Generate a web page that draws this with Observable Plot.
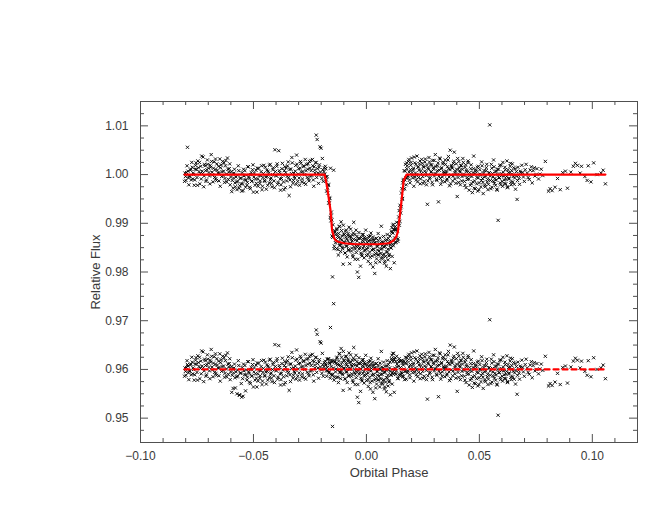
<!DOCTYPE html>
<html><head><meta charset="utf-8">
<script src="https://cdn.jsdelivr.net/npm/d3@7"></script>
<script src="https://cdn.jsdelivr.net/npm/@observablehq/plot@0.6"></script>
<style>html,body{margin:0;padding:0;background:#fff;} #chart{width:660px;height:510px;}</style>
</head><body><div id="chart"></div>
<script>
// Observations: orbital phase, relative flux, residual (offset to 0.96)
const phase = [
-0.0805,-0.0801,-0.0796,-0.0792,-0.0788,-0.0784,-0.0779,-0.0775,-0.0771,-0.0767,
-0.0762,-0.0758,-0.0754,-0.0750,-0.0746,-0.0741,-0.0737,-0.0733,-0.0729,-0.0725,
-0.0720,-0.0716,-0.0712,-0.0708,-0.0704,-0.0699,-0.0695,-0.0691,-0.0687,-0.0683,
-0.0679,-0.0674,-0.0670,-0.0666,-0.0662,-0.0657,-0.0653,-0.0649,-0.0645,-0.0641,
-0.0636,-0.0632,-0.0628,-0.0624,-0.0620,-0.0615,-0.0611,-0.0607,-0.0603,-0.0598,
-0.0594,-0.0590,-0.0586,-0.0582,-0.0577,-0.0573,-0.0569,-0.0565,-0.0561,-0.0556,
-0.0552,-0.0548,-0.0544,-0.0540,-0.0535,-0.0531,-0.0527,-0.0523,-0.0519,-0.0514,
-0.0510,-0.0506,-0.0502,-0.0498,-0.0493,-0.0489,-0.0485,-0.0481,-0.0477,-0.0472,
-0.0468,-0.0464,-0.0460,-0.0456,-0.0451,-0.0447,-0.0443,-0.0439,-0.0435,-0.0430,
-0.0426,-0.0422,-0.0418,-0.0414,-0.0409,-0.0405,-0.0401,-0.0397,-0.0393,-0.0388,
-0.0384,-0.0380,-0.0376,-0.0372,-0.0367,-0.0363,-0.0359,-0.0355,-0.0351,-0.0346,
-0.0342,-0.0338,-0.0334,-0.0330,-0.0325,-0.0321,-0.0317,-0.0313,-0.0309,-0.0304,
-0.0300,-0.0296,-0.0292,-0.0288,-0.0283,-0.0279,-0.0275,-0.0271,-0.0267,-0.0262,
-0.0258,-0.0254,-0.0250,-0.0246,-0.0241,-0.0237,-0.0233,-0.0229,-0.0225,-0.0222,
-0.0218,-0.0214,-0.0210,-0.0205,-0.0201,-0.0197,-0.0193,-0.0188,-0.0184,-0.0180,
-0.0177,-0.0174,-0.0171,-0.0168,-0.0165,-0.0162,-0.0159,-0.0157,-0.0155,-0.0152,
-0.0150,-0.0148,-0.0145,-0.0142,-0.0139,-0.0135,-0.0132,-0.0130,-0.0127,-0.0124,
-0.0122,-0.0119,-0.0117,-0.0114,-0.0112,-0.0109,-0.0106,-0.0103,-0.0101,-0.0098,
-0.0095,-0.0093,-0.0090,-0.0087,-0.0085,-0.0082,-0.0079,-0.0077,-0.0074,-0.0071,
-0.0069,-0.0066,-0.0063,-0.0061,-0.0058,-0.0056,-0.0053,-0.0050,-0.0048,-0.0045,
-0.0042,-0.0040,-0.0037,-0.0034,-0.0032,-0.0029,-0.0026,-0.0024,-0.0021,-0.0018,
-0.0016,-0.0013,-0.0010,-0.0008,-0.0005,-0.0002,0.0000,0.0003,0.0006,0.0008,
0.0011,0.0014,0.0016,0.0018,0.0021,0.0024,0.0026,0.0029,0.0032,0.0035,
0.0037,0.0040,0.0043,0.0045,0.0048,0.0051,0.0053,0.0056,0.0059,0.0061,
0.0064,0.0066,0.0069,0.0072,0.0074,0.0077,0.0080,0.0082,0.0085,0.0088,
0.0090,0.0093,0.0096,0.0098,0.0101,0.0104,0.0106,0.0109,0.0112,0.0114,
0.0117,0.0119,0.0121,0.0123,0.0125,0.0128,0.0131,0.0134,0.0137,0.0140,
0.0143,0.0146,0.0149,0.0152,0.0155,0.0158,0.0161,0.0164,0.0167,0.0170,
0.0173,0.0176,0.0179,0.0182,0.0186,0.0189,0.0193,0.0196,0.0200,0.0203,
0.0207,0.0210,0.0214,0.0217,0.0221,0.0224,0.0228,0.0231,0.0235,0.0238,
0.0242,0.0245,0.0249,0.0252,0.0256,0.0259,0.0263,0.0266,0.0270,0.0273,
0.0277,0.0280,0.0284,0.0287,0.0291,0.0294,0.0298,0.0301,0.0305,0.0308,
0.0312,0.0315,0.0319,0.0322,0.0326,0.0329,0.0333,0.0336,0.0340,0.0343,
0.0347,0.0350,0.0354,0.0357,0.0361,0.0364,0.0368,0.0371,0.0375,0.0378,
0.0382,0.0385,0.0389,0.0392,0.0396,0.0399,0.0402,0.0406,0.0409,0.0413,
0.0416,0.0420,0.0423,0.0427,0.0430,0.0434,0.0437,0.0441,0.0444,0.0448,
0.0451,0.0455,0.0458,0.0462,0.0465,0.0469,0.0472,0.0475,0.0479,0.0482,
0.0486,0.0489,0.0493,0.0496,0.0500,0.0503,0.0507,0.0510,0.0514,0.0517,
0.0521,0.0524,0.0528,0.0531,0.0535,0.0538,0.0542,0.0546,0.0549,0.0553,
0.0556,0.0560,0.0563,0.0567,0.0570,0.0574,0.0577,0.0580,0.0583,0.0587,
0.0590,0.0594,0.0597,0.0601,0.0604,0.0608,0.0611,0.0615,0.0618,0.0622,
0.0625,0.0629,0.0632,0.0636,0.0639,0.0643,0.0646,0.0650,0.0654,0.0658,
0.0662,0.0667,0.0671,0.0676,0.0681,0.0688,0.0695,0.0703,0.0712,0.0721,
0.0730,0.0738,0.0746,0.0755,0.0768,0.0781,0.0792,0.0806,0.0813,0.0822,
0.0835,0.0846,0.0858,0.0869,0.0881,0.0890,0.0905,0.0916,0.0925,0.0934,
0.0946,0.0952,0.0967,0.0977,0.0982,0.0994,0.1006,0.1021,0.1039,0.1048,
0.1058,
// second pass of exposures
-0.0803,-0.0799,-0.0794,-0.0790,-0.0786,-0.0782,-0.0777,-0.0773,-0.0769,-0.0765,
-0.0760,-0.0756,-0.0752,-0.0748,-0.0744,-0.0739,-0.0735,-0.0731,-0.0727,-0.0723,
-0.0718,-0.0714,-0.0710,-0.0706,-0.0702,-0.0697,-0.0693,-0.0689,-0.0685,-0.0681,
-0.0677,-0.0672,-0.0668,-0.0664,-0.0660,-0.0655,-0.0651,-0.0647,-0.0643,-0.0639,
-0.0634,-0.0630,-0.0626,-0.0622,-0.0618,-0.0613,-0.0609,-0.0605,-0.0601,-0.0596,
-0.0592,-0.0588,-0.0584,-0.0580,-0.0575,-0.0571,-0.0567,-0.0563,-0.0559,-0.0554,
-0.0550,-0.0546,-0.0542,-0.0538,-0.0533,-0.0529,-0.0525,-0.0521,-0.0517,-0.0512,
-0.0508,-0.0504,-0.0500,-0.0496,-0.0491,-0.0487,-0.0483,-0.0479,-0.0475,-0.0470,
-0.0466,-0.0462,-0.0458,-0.0454,-0.0449,-0.0445,-0.0441,-0.0437,-0.0433,-0.0428,
-0.0424,-0.0420,-0.0416,-0.0412,-0.0407,-0.0403,-0.0399,-0.0395,-0.0391,-0.0386,
-0.0382,-0.0378,-0.0374,-0.0370,-0.0365,-0.0361,-0.0357,-0.0353,-0.0349,-0.0344,
-0.0340,-0.0336,-0.0332,-0.0328,-0.0323,-0.0319,-0.0315,-0.0311,-0.0307,-0.0302,
-0.0298,-0.0294,-0.0290,-0.0286,-0.0281,-0.0277,-0.0273,-0.0269,-0.0265,-0.0260,
-0.0256,-0.0252,-0.0248,-0.0244,-0.0239,-0.0235,-0.0231,-0.0227,-0.0223,-0.0220,
-0.0216,-0.0212,-0.0208,-0.0203,-0.0199,-0.0195,-0.0191,-0.0186,-0.0182,
-0.0179,-0.0176,-0.0172,-0.0169,-0.0166,-0.0163,-0.0160,-0.0156,-0.0153,-0.0149,-0.0146,-0.0143,-0.0140,-0.0137,
-0.0134,-0.0131,-0.0128,-0.0126,-0.0123,-0.0120,-0.0118,-0.0115,-0.0113,-0.0110,
-0.0107,-0.0105,-0.0102,-0.0099,-0.0097,-0.0094,-0.0091,-0.0089,-0.0086,-0.0083,
-0.0081,-0.0078,-0.0075,-0.0073,-0.0070,-0.0067,-0.0065,-0.0062,-0.0059,-0.0057,
-0.0054,-0.0051,-0.0049,-0.0046,-0.0043,-0.0041,-0.0038,-0.0035,-0.0033,-0.0030,
-0.0027,-0.0025,-0.0022,-0.0019,-0.0017,-0.0014,-0.0011,-0.0009,-0.0006,-0.0003,
0.0001,0.0004,0.0007,0.0009,0.0012,0.0015,0.0017,0.0020,0.0023,0.0025,
0.0028,0.0031,0.0033,0.0036,0.0039,0.0041,0.0044,0.0047,0.0049,0.0052,
0.0055,0.0057,0.0060,0.0063,0.0065,0.0068,0.0071,0.0073,0.0076,0.0079,
0.0081,0.0084,0.0087,0.0089,0.0092,0.0095,0.0097,0.0100,0.0103,0.0105,
0.0108,0.0111,0.0113,0.0116,0.0118,0.0120,0.0122,0.0124,
0.0127,0.0130,0.0133,0.0136,0.0139,0.0142,0.0145,0.0148,0.0151,0.0154,0.0157,0.0160,0.0163,0.0166,0.0169,0.0172,0.0175,0.0178,
0.0181,0.0184,0.0188,0.0191,0.0195,0.0198,0.0202,0.0205,
0.0209,0.0212,0.0216,0.0219,0.0223,0.0226,0.0230,0.0233,0.0237,0.0240,
0.0244,0.0247,0.0251,0.0254,0.0258,0.0261,0.0265,0.0268,0.0272,0.0275,
0.0279,0.0282,0.0286,0.0289,0.0293,0.0296,0.0300,0.0303,0.0307,0.0310,
0.0314,0.0317,0.0321,0.0324,0.0328,0.0331,0.0335,0.0338,0.0342,0.0345,
0.0349,0.0352,0.0356,0.0359,0.0363,0.0366,0.0370,0.0373,0.0377,0.0380,
0.0384,0.0387,0.0391,0.0394,0.0398,0.0401,0.0404,0.0408,0.0411,0.0415,
0.0418,0.0422,0.0425,0.0429,0.0432,0.0436,0.0439,0.0443,0.0446,0.0450,
0.0453,0.0457,0.0460,0.0464,0.0467,0.0471,0.0474,0.0477,0.0481,0.0484,
0.0488,0.0491,0.0495,0.0498,0.0502,0.0505,0.0509,0.0512,0.0516,0.0519,
0.0523,0.0526,0.0530,0.0533,0.0537,0.0540,0.0544,0.0548,0.0551,0.0555,
0.0558,0.0562,0.0565,0.0569,0.0572,0.0576,0.0579,0.0582,0.0585,0.0589,
0.0592,0.0596,0.0599,0.0603,0.0606,0.0610,0.0613,0.0617,0.0620,0.0624,
0.0627,0.0631,0.0634,0.0638,0.0641,0.0645,0.0648,0.0652,0.0656,0.0660,
0.0664,0.0669,0.0673,0.0678,0.0683,
0.0692,0.0699,0.0707,0.0716,0.0725,0.0734,0.0743,0.0751,0.0762,0.0774
];
const flux = [
0.9986,0.9996,1.0004,1.0056,0.9993,0.9998,1.0009,0.9989,1.0015,1.0003,
0.9978,1.0011,1.0024,0.9994,1.0028,1.0006,0.9981,1.0017,1.0038,1.0002,
0.9975,1.0021,1.0008,0.9989,1.0030,1.0013,0.9997,1.0019,1.0041,1.0005,
0.9985,1.0026,1.0010,0.9992,1.0022,1.0003,0.9987,1.0032,1.0014,0.9996,
1.0027,1.0007,0.9984,1.0018,1.0001,1.0034,0.9990,1.0012,0.9979,1.0006,
0.9988,0.9972,1.0003,0.9983,0.9995,0.9969,0.9986,1.0008,0.9977,0.9993,
0.9966,0.9981,1.0011,0.9989,0.9974,0.9999,0.9984,1.0016,0.9992,0.9971,
1.0004,0.9987,1.0020,0.9995,0.9978,1.0009,0.9964,0.9991,1.0013,0.9982,
0.9998,1.0018,0.9976,1.0002,0.9988,1.0015,0.9970,0.9996,1.0007,0.9983,
1.0021,0.9993,0.9975,1.0010,0.9987,1.0051,0.9999,1.0017,0.9980,1.0049,
1.0004,0.9968,0.9992,1.0023,0.9985,1.0008,0.9973,1.0014,0.9996,1.0026,
0.9957,0.9989,1.0011,1.0035,0.9982,1.0003,0.9993,1.0019,1.0040,0.9986,
1.0012,0.9978,1.0027,1.0005,0.9991,1.0016,0.9983,1.0031,1.0008,0.9994,
1.0022,0.9987,1.0013,1.0029,0.9998,1.0018,0.9976,1.0009,1.0024,1.0081,
1.0072,1.0003,1.0015,1.0057,1.0054,0.9992,1.0010,1.0006,1.0001,1.0012,
0.9989,0.9996,0.9962,0.9978,0.9941,0.9951,1.0013,0.9905,0.9923,0.9874,
0.9790,0.9897,1.0009,0.9853,0.9882,0.9877,0.9848,0.9889,0.9862,0.9835,
0.9871,0.9894,0.9856,0.9842,0.9903,0.9866,0.9851,0.9816,0.9878,0.9860,
0.9839,0.9884,0.9853,0.9868,0.9831,0.9875,0.9846,0.9892,0.9817,0.9859,
0.9872,0.9843,0.9864,0.9835,0.9880,0.9902,0.9851,0.9826,0.9866,0.9840,
0.9873,0.9800,0.9856,0.9789,0.9847,0.9869,0.9812,0.9858,0.9836,0.9877,
0.9849,0.9862,0.9829,0.9871,0.9845,0.9858,0.9834,0.9867,0.9850,0.9822,
0.9863,0.9841,0.9874,0.9817,0.9854,0.9833,0.9866,0.9810,0.9846,0.9860,
0.9797,0.9838,0.9869,0.9827,0.9852,0.9835,0.9864,0.9843,0.9821,0.9857,
0.9838,0.9894,0.9848,0.9829,0.9861,0.9837,0.9818,0.9853,0.9832,0.9812,
0.9866,0.9841,0.9825,0.9858,0.9836,0.9874,0.9807,0.9849,0.9881,0.9832,
0.9896,0.9854,0.9887,0.9819,0.9870,0.9893,0.9861,0.9902,0.9884,0.9868,
0.9913,0.9896,0.9937,0.9921,0.9962,0.9949,0.9983,0.9970,1.0008,0.9989,
1.0021,0.9979,1.0012,0.9993,1.0027,1.0005,0.9983,1.0019,1.0034,0.9998,
1.0010,0.9976,1.0024,1.0003,0.9989,1.0038,1.0015,0.9994,1.0022,0.9981,
1.0008,1.0031,0.9996,1.0017,0.9986,1.0026,1.0004,0.9979,0.9939,1.0013,
1.0035,0.9992,1.0020,1.0006,0.9984,1.0029,1.0011,0.9997,1.0041,1.0002,
0.9988,1.0018,0.9944,1.0009,1.0032,0.9980,1.0014,0.9995,1.0025,1.0003,
0.9985,1.0021,1.0007,0.9991,1.0030,1.0012,0.9977,1.0050,0.9999,1.0016,
0.9987,1.0023,1.0046,1.0004,0.9982,1.0011,0.9955,0.9994,1.0027,1.0008,
0.9979,1.0019,0.9996,1.0033,1.0001,0.9986,1.0015,0.9973,1.0006,0.9990,
1.0024,0.9968,0.9998,1.0012,0.9981,0.9963,1.0004,1.0038,0.9987,0.9971,
1.0009,0.9994,0.9966,1.0017,0.9983,1.0001,0.9975,1.0026,0.9992,0.9961,
1.0008,0.9978,0.9997,1.0014,0.9985,0.9969,1.0003,1.0102,0.9988,1.0021,
0.9974,0.9995,1.0030,0.9982,1.0006,0.9989,0.9970,1.0011,0.9906,0.9993,
1.0019,0.9979,1.0002,0.9986,1.0025,0.9997,0.9981,1.0010,0.9990,1.0028,
0.9975,1.0004,0.9993,1.0017,0.9984,1.0008,1.0022,0.9996,0.9980,1.0012,
0.9998,0.9949,1.0015,0.9992,1.0007,1.0019,0.9995,1.0010,1.0003,0.9990,
1.0016,1.0008,0.9997,1.0012,1.0001,0.9998,1.0027,0.9966,0.9971,0.9967,
0.9974,0.9992,0.9969,1.0004,1.0007,0.9972,1.0005,1.0017,1.0023,1.0019,
1.0003,1.0017,0.9996,0.9988,1.0018,0.9985,1.0024,1.0000,1.0003,1.0009,
0.9981,
// second pass
1.0003,0.9988,1.0018,1.0007,0.9979,0.9996,1.0011,1.0025,0.9991,1.0000,
0.9989,1.0019,1.0011,0.9978,1.0014,1.0025,1.0002,0.9991,1.0007,1.0036,
0.9997,1.0018,0.9986,1.0010,1.0021,1.0004,0.9981,1.0015,1.0027,0.9999,
1.0013,0.9994,1.0032,0.9988,1.0009,1.0017,1.0003,0.9976,1.0020,1.0006,
0.9998,1.0024,0.9992,1.0029,0.9985,1.0011,1.0005,1.0022,0.9995,0.9965,
1.0001,0.9993,1.0011,0.9975,0.9985,0.9999,1.0018,0.9972,0.9992,0.9981,
1.0004,0.9967,0.9997,1.0008,0.9989,0.9978,1.0016,0.9995,0.9974,1.0000,
0.9986,1.0010,0.9964,1.0003,0.9991,0.9982,1.0013,0.9976,0.9998,0.9987,
1.0006,0.9969,0.9994,1.0019,0.9986,0.9995,1.0009,0.9978,1.0003,1.0019,
0.9990,0.9982,1.0000,1.0014,0.9973,1.0006,0.9997,1.0022,0.9984,1.0008,
0.9991,0.9979,1.0012,0.9999,0.9969,1.0016,1.0004,0.9987,1.0018,0.9994,
1.0011,0.9975,1.0002,1.0024,0.9988,0.9996,1.0007,0.9980,1.0021,1.0001,
0.9993,1.0013,1.0023,0.9985,1.0006,1.0018,1.0000,0.9980,1.0021,1.0011,
0.9991,1.0027,0.9997,1.0008,1.0031,0.9989,1.0016,1.0003,1.0025,0.9994,
1.0012,0.9982,1.0020,1.0005,0.9999,1.0033,0.9986,1.0014,1.0017,
0.9995,0.9966,0.9973,0.9980,0.9942,0.9952,0.9912,0.9915,0.9907,0.9871,0.9878,0.9848,0.9885,0.9860,
0.9866,0.9887,0.9873,0.9846,0.9879,0.9893,0.9854,0.9868,0.9858,0.9885,
0.9874,0.9848,0.9896,0.9862,0.9877,0.9839,0.9871,0.9886,0.9853,0.9864,
0.9879,0.9844,0.9873,0.9858,0.9888,0.9867,0.9849,0.9876,0.9831,0.9867,
0.9857,0.9877,0.9847,0.9886,0.9852,0.9864,0.9826,0.9869,0.9881,0.9850,
0.9858,0.9839,0.9871,0.9833,0.9865,0.9877,0.9853,0.9843,0.9868,0.9886,
0.9847,0.9861,0.9836,0.9873,0.9856,0.9866,0.9830,0.9880,0.9859,0.9845,
0.9872,0.9847,0.9866,0.9835,0.9860,0.9819,0.9869,0.9854,0.9845,0.9879,
0.9836,0.9858,0.9870,0.9847,0.9828,0.9862,0.9854,0.9834,0.9873,0.9851,
0.9822,0.9865,0.9857,0.9841,0.9877,0.9847,0.9869,0.9833,0.9863,0.9856,
0.9850,0.9884,0.9891,0.9857,0.9880,0.9898,0.9865,0.9887,
0.9860,0.9887,0.9870,0.9889,0.9863,0.9900,0.9926,0.9904,0.9931,0.9934,0.9971,0.9951,0.9988,0.9990,0.9971,1.0007,0.9993,1.0024,
1.0018,0.9997,1.0031,0.9989,1.0010,1.0025,1.0004,0.9993,
1.0013,1.0036,0.9995,1.0021,1.0000,0.9985,1.0016,1.0009,1.0028,0.9991,
1.0002,1.0023,0.9982,1.0015,1.0007,1.0032,0.9998,1.0019,0.9987,1.0011,
1.0026,0.9994,1.0005,1.0020,0.9979,1.0014,1.0029,1.0001,1.0017,0.9990,
1.0008,1.0024,0.9997,1.0034,0.9992,1.0012,0.9986,1.0022,1.0006,0.9999,
1.0030,1.0003,0.9988,1.0016,1.0037,0.9995,1.0010,0.9981,1.0019,1.0013,
0.9997,1.0027,0.9991,1.0007,1.0022,1.0000,1.0033,0.9984,1.0014,1.0005,
1.0018,0.9987,1.0011,1.0025,0.9998,0.9978,1.0020,1.0009,0.9994,1.0028,
0.9991,1.0004,0.9978,1.0020,0.9996,0.9985,1.0012,0.9972,1.0001,1.0006,
0.9981,1.0015,0.9993,0.9969,1.0010,0.9999,0.9988,1.0018,0.9984,1.0003,
0.9995,0.9975,1.0008,1.0021,0.9990,0.9980,1.0004,0.9997,0.9971,1.0013,
1.0002,0.9986,1.0016,0.9992,0.9978,1.0007,0.9968,1.0000,1.0011,0.9994,
0.9983,1.0019,0.9998,0.9976,1.0005,0.9989,1.0015,0.9981,0.9996,0.9973,
1.0010,0.9991,1.0003,1.0023,0.9979,1.0001,0.9985,1.0014,0.9993,0.9970,
1.0006,0.9988,0.9998,0.9980,1.0004,
1.0004,0.9986,1.0021,0.9994,1.0009,0.9983,1.0014,1.0000,0.9991,1.0011
];
const residual = [
0.9586,0.9596,0.9604,0.9610,0.9593,0.9598,0.9609,0.9589,0.9615,0.9603,
0.9578,0.9611,0.9624,0.9594,0.9628,0.9606,0.9581,0.9617,0.9638,0.9602,
0.9575,0.9621,0.9608,0.9589,0.9630,0.9613,0.9597,0.9619,0.9641,0.9605,
0.9585,0.9626,0.9610,0.9592,0.9622,0.9603,0.9587,0.9632,0.9614,0.9596,
0.9627,0.9607,0.9584,0.9618,0.9601,0.9634,0.9590,0.9612,0.9579,0.9606,
0.9588,0.9561,0.9603,0.9583,0.9595,0.9550,0.9586,0.9608,0.9547,0.9593,
0.9543,0.9581,0.9611,0.9589,0.9556,0.9599,0.9584,0.9616,0.9592,0.9571,
0.9604,0.9587,0.9620,0.9595,0.9578,0.9609,0.9564,0.9591,0.9613,0.9582,
0.9598,0.9618,0.9576,0.9602,0.9588,0.9615,0.9570,0.9596,0.9607,0.9583,
0.9621,0.9593,0.9575,0.9610,0.9587,0.9651,0.9599,0.9617,0.9580,0.9649,
0.9604,0.9568,0.9592,0.9623,0.9585,0.9608,0.9573,0.9614,0.9596,0.9626,
0.9557,0.9589,0.9611,0.9635,0.9582,0.9603,0.9593,0.9619,0.9640,0.9586,
0.9612,0.9578,0.9627,0.9605,0.9591,0.9616,0.9583,0.9631,0.9608,0.9594,
0.9622,0.9587,0.9613,0.9629,0.9598,0.9618,0.9576,0.9609,0.9624,0.9681,
0.9672,0.9603,0.9615,0.9657,0.9654,0.9592,0.9610,0.9606,0.9601,0.9612,
0.9597,0.9621,0.9597,0.9622,0.9595,0.9614,0.9686,0.9590,0.9619,0.9588,
0.9483,0.9618,0.9735,0.9584,0.9615,0.9612,0.9584,0.9625,0.9599,0.9573,
0.9609,0.9633,0.9595,0.9581,0.9643,0.9606,0.9592,0.9557,0.9619,0.9601,
0.9581,0.9626,0.9595,0.9610,0.9573,0.9617,0.9588,0.9634,0.9560,0.9602,
0.9615,0.9586,0.9607,0.9578,0.9623,0.9645,0.9594,0.9569,0.9609,0.9583,
0.9616,0.9543,0.9599,0.9532,0.9590,0.9612,0.9555,0.9601,0.9579,0.9620,
0.9592,0.9605,0.9572,0.9614,0.9588,0.9601,0.9577,0.9610,0.9593,0.9565,
0.9606,0.9584,0.9617,0.9560,0.9597,0.9576,0.9609,0.9553,0.9589,0.9603,
0.9540,0.9581,0.9612,0.9570,0.9595,0.9578,0.9607,0.9586,0.9564,0.9600,
0.9581,0.9637,0.9590,0.9571,0.9603,0.9579,0.9560,0.9595,0.9574,0.9554,
0.9607,0.9582,0.9566,0.9599,0.9577,0.9615,0.9548,0.9588,0.9619,0.9570,
0.9633,0.9590,0.9622,0.9553,0.9603,0.9624,0.9590,0.9627,0.9605,0.9582,
0.9616,0.9588,0.9617,0.9590,0.9618,0.9592,0.9613,0.9586,0.9617,0.9596,
0.9625,0.9580,0.9612,0.9593,0.9627,0.9605,0.9583,0.9619,0.9634,0.9598,
0.9610,0.9576,0.9624,0.9603,0.9589,0.9638,0.9615,0.9594,0.9622,0.9581,
0.9608,0.9631,0.9596,0.9617,0.9586,0.9626,0.9604,0.9579,0.9539,0.9613,
0.9635,0.9592,0.9620,0.9606,0.9584,0.9629,0.9611,0.9597,0.9641,0.9602,
0.9588,0.9618,0.9544,0.9609,0.9632,0.9580,0.9614,0.9595,0.9625,0.9603,
0.9585,0.9621,0.9607,0.9591,0.9630,0.9612,0.9577,0.9650,0.9599,0.9616,
0.9587,0.9623,0.9646,0.9604,0.9582,0.9611,0.9555,0.9594,0.9627,0.9608,
0.9579,0.9619,0.9596,0.9633,0.9601,0.9586,0.9615,0.9573,0.9606,0.9590,
0.9624,0.9568,0.9598,0.9612,0.9581,0.9563,0.9604,0.9638,0.9587,0.9571,
0.9609,0.9594,0.9566,0.9617,0.9583,0.9601,0.9575,0.9626,0.9592,0.9561,
0.9608,0.9578,0.9597,0.9614,0.9585,0.9569,0.9603,0.9702,0.9588,0.9621,
0.9574,0.9595,0.9630,0.9582,0.9606,0.9589,0.9570,0.9611,0.9506,0.9593,
0.9619,0.9579,0.9602,0.9586,0.9625,0.9597,0.9581,0.9610,0.9590,0.9628,
0.9575,0.9604,0.9593,0.9617,0.9584,0.9608,0.9622,0.9596,0.9580,0.9612,
0.9598,0.9549,0.9615,0.9592,0.9607,0.9619,0.9595,0.9610,0.9603,0.9590,
0.9616,0.9608,0.9597,0.9612,0.9601,0.9598,0.9627,0.9566,0.9571,0.9567,
0.9574,0.9592,0.9569,0.9604,0.9607,0.9572,0.9605,0.9617,0.9623,0.9619,
0.9603,0.9617,0.9596,0.9588,0.9618,0.9585,0.9624,0.9600,0.9603,0.9609,
0.9581,
// second pass
0.9603,0.9588,0.9618,0.9607,0.9579,0.9596,0.9611,0.9625,0.9591,0.9600,
0.9589,0.9619,0.9611,0.9578,0.9614,0.9625,0.9602,0.9591,0.9607,0.9636,
0.9597,0.9618,0.9586,0.9610,0.9621,0.9604,0.9581,0.9615,0.9627,0.9599,
0.9613,0.9594,0.9632,0.9588,0.9609,0.9617,0.9603,0.9576,0.9620,0.9606,
0.9598,0.9624,0.9592,0.9629,0.9585,0.9611,0.9605,0.9622,0.9595,0.9553,
0.9601,0.9593,0.9611,0.9562,0.9585,0.9599,0.9618,0.9548,0.9592,0.9571,
0.9604,0.9545,0.9597,0.9608,0.9589,0.9578,0.9616,0.9595,0.9574,0.9600,
0.9586,0.9610,0.9564,0.9603,0.9591,0.9582,0.9613,0.9576,0.9598,0.9587,
0.9606,0.9569,0.9594,0.9619,0.9586,0.9595,0.9609,0.9578,0.9603,0.9619,
0.9590,0.9582,0.9600,0.9614,0.9573,0.9606,0.9597,0.9622,0.9584,0.9608,
0.9591,0.9579,0.9612,0.9599,0.9569,0.9616,0.9604,0.9587,0.9618,0.9594,
0.9611,0.9575,0.9602,0.9624,0.9588,0.9596,0.9607,0.9580,0.9621,0.9601,
0.9593,0.9613,0.9623,0.9585,0.9606,0.9618,0.9600,0.9580,0.9621,0.9611,
0.9591,0.9627,0.9597,0.9608,0.9631,0.9589,0.9616,0.9603,0.9625,0.9594,
0.9612,0.9582,0.9620,0.9605,0.9599,0.9633,0.9586,0.9614,0.9617,
0.9609,0.9586,0.9604,0.9621,0.9593,0.9612,0.9582,0.9606,0.9615,0.9590,0.9603,0.9578,0.9617,0.9595,
0.9601,0.9623,0.9610,0.9584,0.9617,0.9632,0.9593,0.9608,0.9598,0.9625,
0.9614,0.9589,0.9637,0.9603,0.9618,0.9580,0.9612,0.9627,0.9595,0.9606,
0.9621,0.9586,0.9615,0.9600,0.9630,0.9609,0.9591,0.9619,0.9574,0.9610,
0.9600,0.9620,0.9590,0.9629,0.9595,0.9607,0.9569,0.9612,0.9624,0.9593,
0.9601,0.9582,0.9614,0.9576,0.9608,0.9620,0.9596,0.9586,0.9611,0.9629,
0.9590,0.9604,0.9579,0.9616,0.9599,0.9609,0.9573,0.9623,0.9602,0.9588,
0.9615,0.9590,0.9609,0.9578,0.9603,0.9562,0.9612,0.9597,0.9588,0.9622,
0.9579,0.9601,0.9613,0.9590,0.9571,0.9605,0.9597,0.9577,0.9615,0.9593,
0.9564,0.9607,0.9599,0.9583,0.9618,0.9588,0.9610,0.9574,0.9603,0.9596,
0.9589,0.9622,0.9629,0.9594,0.9616,0.9633,0.9599,0.9620,
0.9592,0.9616,0.9597,0.9611,0.9581,0.9607,0.9622,0.9588,0.9604,0.9594,0.9618,0.9585,0.9609,0.9601,0.9579,0.9613,0.9596,0.9624,
0.9618,0.9597,0.9631,0.9589,0.9610,0.9625,0.9604,0.9593,
0.9613,0.9636,0.9595,0.9621,0.9600,0.9585,0.9616,0.9609,0.9628,0.9591,
0.9602,0.9623,0.9582,0.9615,0.9607,0.9632,0.9598,0.9619,0.9587,0.9611,
0.9626,0.9594,0.9605,0.9620,0.9579,0.9614,0.9629,0.9601,0.9617,0.9590,
0.9608,0.9624,0.9597,0.9634,0.9592,0.9612,0.9586,0.9622,0.9606,0.9599,
0.9630,0.9603,0.9588,0.9616,0.9637,0.9595,0.9610,0.9581,0.9619,0.9613,
0.9597,0.9627,0.9591,0.9607,0.9622,0.9600,0.9633,0.9584,0.9614,0.9605,
0.9618,0.9587,0.9611,0.9625,0.9598,0.9578,0.9620,0.9609,0.9594,0.9628,
0.9591,0.9604,0.9578,0.9620,0.9596,0.9585,0.9612,0.9572,0.9601,0.9606,
0.9581,0.9615,0.9593,0.9569,0.9610,0.9599,0.9588,0.9618,0.9584,0.9603,
0.9595,0.9575,0.9608,0.9621,0.9590,0.9580,0.9604,0.9597,0.9571,0.9613,
0.9602,0.9586,0.9616,0.9592,0.9578,0.9607,0.9568,0.9600,0.9611,0.9594,
0.9583,0.9619,0.9598,0.9576,0.9605,0.9589,0.9615,0.9581,0.9596,0.9573,
0.9610,0.9591,0.9603,0.9623,0.9579,0.9601,0.9585,0.9614,0.9593,0.9570,
0.9606,0.9588,0.9598,0.9580,0.9604,
0.9604,0.9586,0.9621,0.9594,0.9609,0.9583,0.9614,0.9600,0.9591,0.9611
];
// Fitted transit model (red curve)
const modelPhase = [-0.0805,-0.0185,-0.0174,-0.0159,-0.0152,-0.0143,-0.0137,-0.0125,-0.0100,-0.0050,0.0000,0.0050,0.0100,0.0121,0.0132,0.0139,0.0151,0.0165,0.0178,0.1058];
const modelFlux  = [1.0000,1.0000,0.9975,0.9927,0.9886,0.9870,0.9865,0.9862,0.9859,0.9857,0.9857,0.9857,0.9859,0.9865,0.9872,0.9882,0.9927,0.9988,1.0000,1.0000];
// Residual zero level (dashed red)
const residPhase = [-0.0805, 0.1058];
const residLevel = [0.96, 0.96];
// Axis ticks
const xMajor = [-0.10,-0.05,0.00,0.05,0.10];
const xMinor = [-0.09,-0.08,-0.07,-0.06,-0.04,-0.03,-0.02,-0.01,0.01,0.02,0.03,0.04,0.06,0.07,0.08,0.09,0.11];
const yMajor = [0.95,0.96,0.97,0.98,0.99,1.00,1.01];
const yMinor = [0.9475,0.9525,0.955,0.9575,0.9625,0.965,0.9675,0.9725,0.975,0.9775,0.9825,0.985,0.9875,0.9925,0.995,0.9975,1.0025,1.005,1.0075,1.0125];
const xDomain = [-0.10, 0.12];
const yDomain = [0.945, 1.015];

if (phase.length !== flux.length || phase.length !== residual.length) throw new Error("length mismatch " + phase.length + " " + flux.length + " " + residual.length);

const points = phase.map((p, i) => ({phase: p, flux: flux[i], residual: residual[i]}));
const model = modelPhase.map((p, i) => ({phase: p, flux: modelFlux[i]}));
const residLine = residPhase.map((p, i) => ({phase: p, level: residLevel[i]}));

const W = 660, H = 510, mL = 140, mR = 23, mT = 101, mB = 68;
const fw = W - mL - mR, fh = H - mT - mB;
const axisColor = "#505050";
const majorLen = 8, minorLen = 4;

const chart = Plot.plot({
  width: W, height: H,
  marginLeft: mL, marginRight: mR, marginTop: mT, marginBottom: mB,
  x: {domain: xDomain},
  y: {domain: yDomain},
  style: {fontFamily: "'Liberation Sans', Arial, sans-serif", fontSize: "12px", color: "#3a3a3a", background: "#fff"},
  marks: [
    Plot.frame({stroke: axisColor, strokeWidth: 1}),
    Plot.tickX(xMajor, {x: d => d, insetTop: fh - majorLen, stroke: axisColor}),
    Plot.tickX(xMajor, {x: d => d, insetBottom: fh - majorLen, stroke: axisColor}),
    Plot.tickX(xMinor, {x: d => d, insetTop: fh - minorLen, stroke: axisColor}),
    Plot.tickX(xMinor, {x: d => d, insetBottom: fh - minorLen, stroke: axisColor}),
    Plot.tickY(yMajor, {y: d => d, insetRight: fw - majorLen, stroke: axisColor}),
    Plot.tickY(yMajor, {y: d => d, insetLeft: fw - majorLen, stroke: axisColor}),
    Plot.tickY(yMinor, {y: d => d, insetRight: fw - minorLen, stroke: axisColor}),
    Plot.tickY(yMinor, {y: d => d, insetLeft: fw - minorLen, stroke: axisColor}),
    Plot.dot(points, {x: "phase", y: "flux", symbol: "times", r: 1.6, stroke: "#000", strokeWidth: 0.9}),
    Plot.dot(points, {x: "phase", y: "residual", symbol: "times", r: 1.6, stroke: "#000", strokeWidth: 0.9}),
    Plot.line(model, {x: "phase", y: "flux", stroke: "#ff0000", strokeWidth: 2.2}),
    Plot.line(residLine, {x: "phase", y: "level", stroke: "#ff0000", strokeWidth: 2.2, strokeDasharray: "5,4"}),
    Plot.axisX({ticks: xMajor, tickSize: 0, tickPadding: 9, tickFormat: d3.format(".2f"), label: null}),
    Plot.axisY({ticks: yMajor, tickSize: 0, tickPadding: 12, tickFormat: d3.format(".2f"), label: null}),
    Plot.text(["Orbital Phase"], {frameAnchor: "bottom", dy: 30, lineAnchor: "middle", fontSize: 13, fill: "#3a3a3a"}),
    Plot.text(["Relative Flux"], {frameAnchor: "left", dx: -45, rotate: -90, lineAnchor: "middle", textAnchor: "middle", fontSize: 13, fill: "#3a3a3a"})
  ]
});
document.getElementById("chart").appendChild(chart);
</script>
</body></html>
